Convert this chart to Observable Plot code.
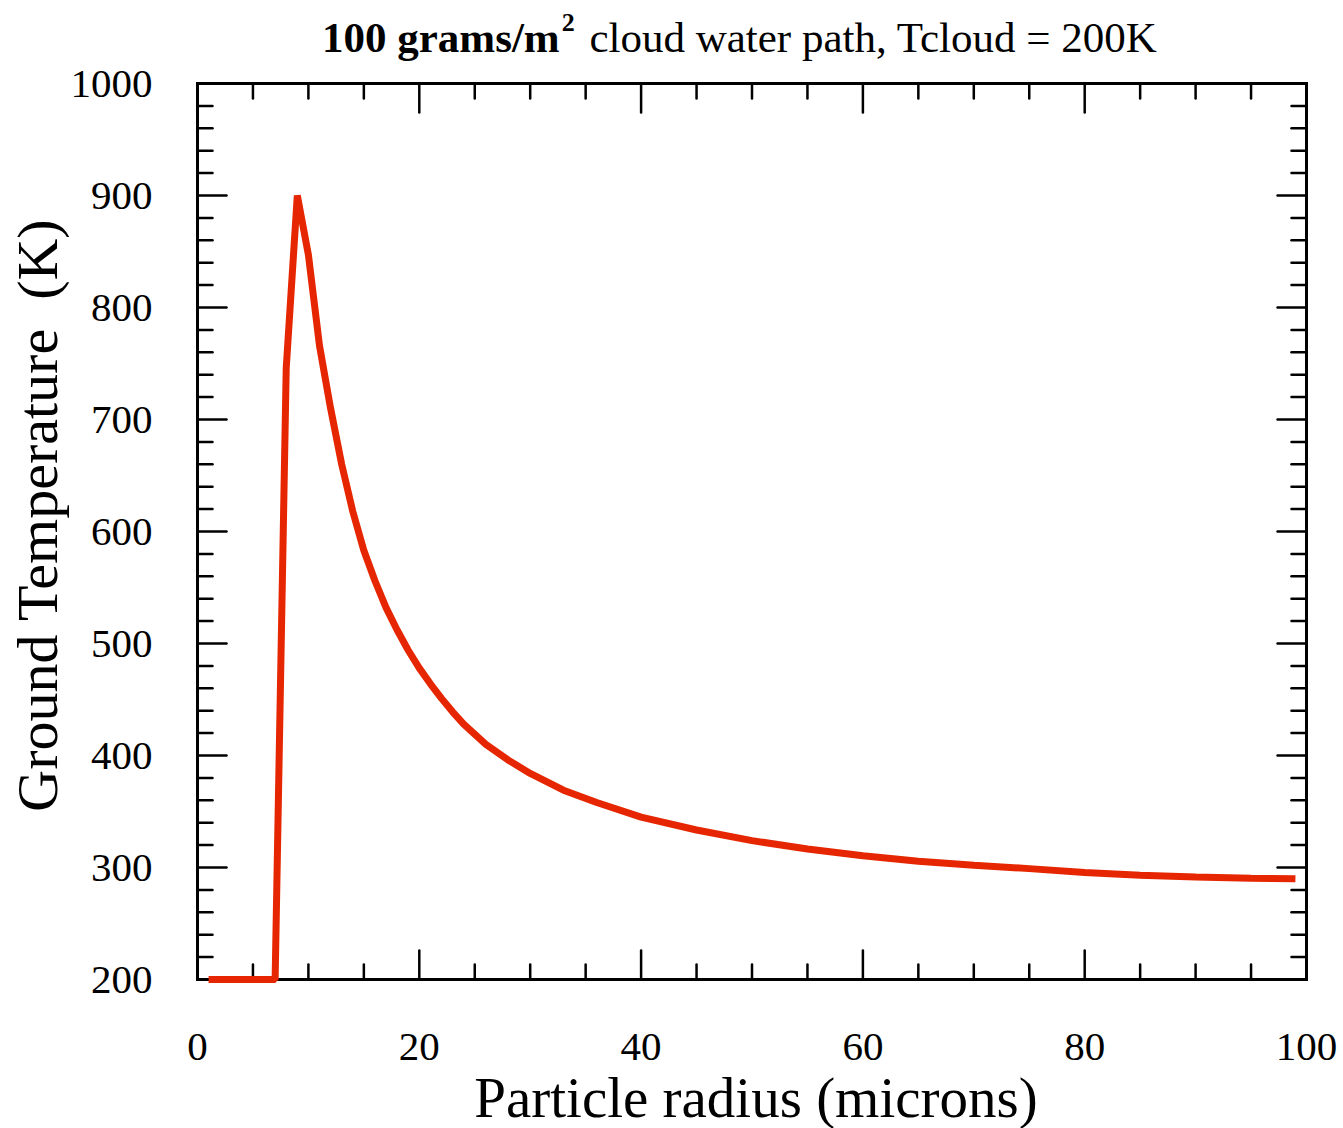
<!DOCTYPE html>
<html>
<head>
<meta charset="utf-8">
<script src="https://cdn.jsdelivr.net/npm/d3@7"></script>
<script src="https://cdn.jsdelivr.net/npm/@observablehq/plot@0.6"></script>
<style>
  html, body { margin: 0; padding: 0; background: #fff; }
  #wrap { position: relative; width: 1343px; height: 1128px; }
  #title { position: absolute; left: 322px; top: 16px; font-family: "Liberation Serif", "Times New Roman", serif; font-size: 43px; line-height: 43px; white-space: nowrap; color: #000; }
  #title b { font-weight: bold; }
  #title .sup { font-size: 26px; position: relative; top: -21px; font-weight: bold; margin-left: 2px; margin-right: 4px; }
</style>
</head>
<body>
<div id="wrap">
  <div id="title"><b>100 grams/m<span class="sup">2</span></b> cloud water path, Tcloud = 200K</div>
  <div id="chart"></div>
</div>
<script>
// Particle radius (microns)
const radius = [1, 7, 8, 9, 10, 11, 12, 13, 14, 15, 16, 17, 18, 19, 20, 21, 22, 23, 24, 26, 28, 30, 33, 36, 40, 45, 50, 55, 60, 65, 70, 75, 80, 85, 90, 95, 99];
// Ground temperature (K)
const groundTemp = [200, 200, 746, 900, 847, 766, 710, 660, 618, 583, 556, 532, 512, 494, 478, 464, 451, 439, 428, 410, 396, 384, 369, 358, 345, 333.5, 324, 316.5, 310.5, 305.5, 302, 299, 295.5, 293, 291.5, 290.5, 290];

const xMajor = [0, 20, 40, 60, 80, 100];
const xMinor = d3.range(0, 101, 5).filter(v => v % 20 !== 0);
const yMajor = [200, 300, 400, 500, 600, 700, 800, 900, 1000];
const yMinor = d3.range(200, 1001, 20).filter(v => v % 100 !== 0);

const data = radius.map((r, i) => ({r, t: groundTemp[i]}));

const font = "Liberation Serif, Times New Roman, serif";
const tickShape = {draw(ctx, l) { ctx.moveTo(0, 0); ctx.lineTo(0, -l); }};
const tickOpts = {shape: tickShape, anchor: "start", stroke: "black", strokeWidth: 2.5};

const chart = Plot.plot({
  width: 1343,
  height: 1128,
  marginLeft: 197,
  marginRight: 37,
  marginTop: 83,
  marginBottom: 149,
  style: {fontFamily: font, background: "white", color: "black"},
  x: {domain: [0, 100]},
  y: {domain: [200, 1000]},
  marks: [
    Plot.axisX(xMajor, {anchor: "bottom", tickSize: 0, tickPadding: 51, fontSize: 41, label: null, tickFormat: d => String(d)}),
    Plot.axisY(yMajor, {anchor: "left", tickSize: 0, tickPadding: 45, fontSize: 41, label: null, tickFormat: d => String(d)}),
    // inward ticks, bottom
    Plot.vectorX(xMajor, {x: d => d, frameAnchor: "bottom", rotate: 0, length: 29, ...tickOpts}),
    Plot.vectorX(xMinor, {x: d => d, frameAnchor: "bottom", rotate: 0, length: 15, ...tickOpts}),
    // top
    Plot.vectorX(xMajor, {x: d => d, frameAnchor: "top", rotate: 180, length: 29, ...tickOpts}),
    Plot.vectorX(xMinor, {x: d => d, frameAnchor: "top", rotate: 180, length: 15, ...tickOpts}),
    // left
    Plot.vectorY(yMajor, {y: d => d, frameAnchor: "left", rotate: 90, length: 29, ...tickOpts}),
    Plot.vectorY(yMinor, {y: d => d, frameAnchor: "left", rotate: 90, length: 15, ...tickOpts}),
    // right
    Plot.vectorY(yMajor, {y: d => d, frameAnchor: "right", rotate: -90, length: 29, ...tickOpts}),
    Plot.vectorY(yMinor, {y: d => d, frameAnchor: "right", rotate: -90, length: 15, ...tickOpts}),
    Plot.frame({stroke: "black", strokeWidth: 3}),
    Plot.line(data, {x: "r", y: "t", stroke: "#e62600", strokeWidth: 7, curve: "linear", strokeLinejoin: "miter", strokeLinecap: "butt"}),
    Plot.text(["Particle radius (microns)"], {text: d => d, frameAnchor: "bottom", lineAnchor: "middle", textAnchor: "middle", dy: 119, dx: 4, fontSize: 57, fill: "black"}),
    Plot.text(["Ground Temperature\u00a0 (K)"], {text: d => d, frameAnchor: "left", lineAnchor: "middle", textAnchor: "middle", rotate: -90, dx: -159, dy: -16, fontSize: 58, fill: "black"})
  ]
});
document.getElementById("chart").appendChild(chart);
</script>
</body>
</html>
